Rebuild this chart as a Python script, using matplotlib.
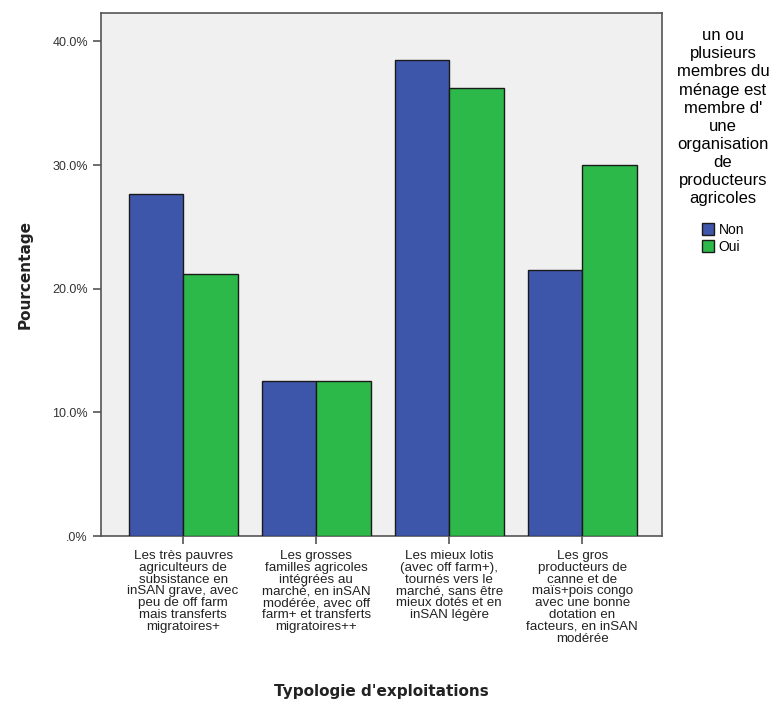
import numpy as np
import matplotlib
matplotlib.use("Agg")
import matplotlib.pyplot as plt
from matplotlib.patches import Patch

# - Données:

categories = [
    "Les très pauvres\nagriculteurs de\nsubsistance en\ninSAN grave, avec\npeu de off farm\nmais transferts\nmigratoires+",
    "Les grosses\nfamilles agricoles\nintégrées au\nmarché, en inSAN\nmodérée, avec off\nfarm+ et transferts\nmigratoires++",
    "Les mieux lotis\n(avec off farm+),\ntournés vers le\nmarché, sans être\nmieux dotés et en\ninSAN légère",
    "Les gros\nproducteurs de\ncanne et de\nmaïs+pois congo\navec une bonne\ndotation en\nfacteurs, en inSAN\nmodérée",
]
non = [27.7, 12.5, 38.5, 21.5]
oui = [21.2, 12.5, 36.2, 30.0]
series_labels = ["Non", "Oui"]
y_ticks = [0, 10, 20, 30, 40]
y_tick_labels = [".0%", "10.0%", "20.0%", "30.0%", "40.0%"]
legend_title = ("un ou\nplusieurs\nmembres du\nménage est\nmembre d'\nune\norganisation\nde\n"
                "producteurs\nagricoles")

# - Style:

blue = "#3D56AA"
green = "#2DB94A"
axis_col = "#555555"
txt_col = "#222222"
font = "Liberation Sans"

fig = plt.figure(figsize=(7.79, 7.08), dpi=100)
ax = fig.add_axes([0.1297, 0.2429, 0.7201, 0.7387])
ax.set_facecolor("#F0F0F0")

x = np.arange(len(categories))
w = 0.41
ax.bar(x - w / 2, non, width=w, color=blue, edgecolor="#1a1a1a", linewidth=1.0, zorder=3)
ax.bar(x + w / 2, oui, width=w, color=green, edgecolor="#1a1a1a", linewidth=1.0, zorder=3)

ax.set_xlim(-0.617, 3.6)
ax.set_ylim(0, 42.3)

ax.set_yticks(y_ticks)
ax.set_yticklabels(y_tick_labels, fontsize=9, color="#333333", family=font)
ax.set_xticks(x)
ax.set_xticklabels(categories, fontsize=9.6, color=txt_col, family=font,
                   linespacing=0.98)
ax.tick_params(axis="both", direction="out", length=6, width=1.2, color=axis_col)
ax.tick_params(axis="x", pad=4)

for s in ax.spines.values():
    s.set_color(axis_col)
    s.set_linewidth(1.2)

ax.set_ylabel("Pourcentage", fontsize=11, fontweight="bold", color=txt_col, labelpad=14)
ax.set_xlabel("Typologie d'exploitations", fontsize=11, fontweight="bold", color=txt_col,
              labelpad=28)

# - Légende:

handles = [Patch(facecolor=blue, edgecolor="#1a1a1a", linewidth=1.0),
           Patch(facecolor=green, edgecolor="#1a1a1a", linewidth=1.0)]
leg = fig.legend(handles, series_labels, title=legend_title, loc="upper center",
                 bbox_to_anchor=(0.928, 0.968), frameon=False,
                 prop={"family": font, "size": 10},
                 title_fontproperties={"family": font, "size": 12},
                 handlelength=0.9, handleheight=0.9, handletextpad=0.3,
                 labelspacing=0.2, borderaxespad=0)
leg.get_title().set_multialignment("center")
leg.get_title().set_linespacing(1.26)
leg._legend_box.sep = 12

fig.savefig("out.png", dpi=100)
